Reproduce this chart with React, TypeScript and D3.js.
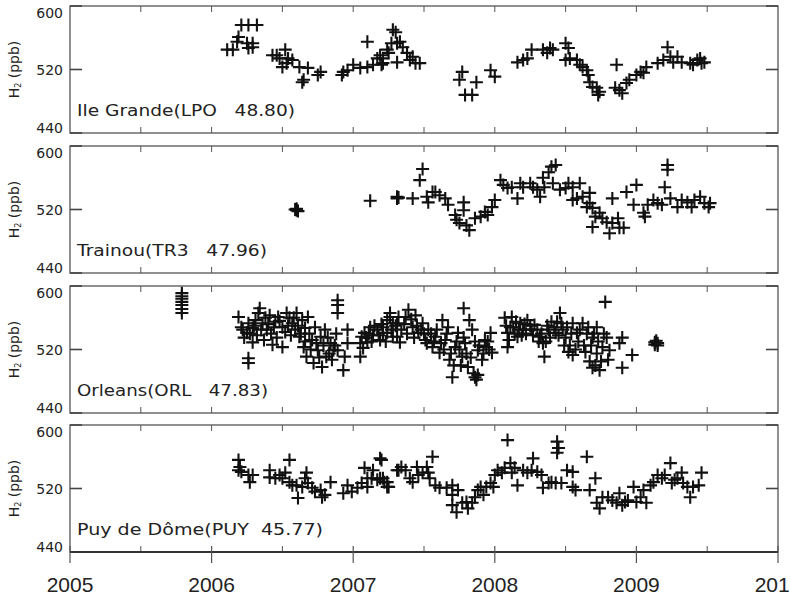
import React from 'react';
import * as d3 from 'd3';

// H2 mixing ratio (ppb) per station, [decimal year, value]
const stations = ['Ile Grande(LPO   48.80)', 'Trainou(TR3   47.96)', 'Orleans(ORL   47.83)', 'Puy de Dôme(PUY  45.77)'];
const labelWidths = [218, 190, 191, 246];

const lpo: number[][] = [
  [2006.11,545],[2006.15,545],[2006.18,555],[2006.19,561],[2006.21,576],[2006.26,576],[2006.32,576],[2006.25,553],[2006.26,547],[2006.29,548],[2006.29,553],
  [2006.43,538],[2006.46,538],[2006.48,534],[2006.52,545],[2006.53,528],[2006.54,534],[2006.57,532],[2006.50,523],[2006.62,523],[2006.64,504],[2006.65,507],[2006.68,522],[2006.75,513],[2006.77,517],
  [2006.92,513],[2006.93,517],[2006.96,519],[2007.00,526],[2007.05,522],[2007.10,555],[2007.10,523],[2007.14,526],[2007.17,534],[2007.19,538],[2007.21,528],[2007.24,545],[2007.27,553],[2007.30,567],
  [2007.20,526],[2007.21,534],[2007.25,541],[2007.28,570],[2007.31,553],[2007.31,529],[2007.33,555],[2007.35,548],[2007.38,541],[2007.40,532],[2007.42,536],[2007.44,528],[2007.47,528],
  [2007.77,517],[2007.75,507],[2007.79,488],[2007.84,488],[2007.87,504],[2007.97,519],[2008.00,511],
  [2008.16,529],[2008.20,532],[2008.23,534],[2008.26,545],[2008.34,545],[2008.37,541],[2008.39,547],[2008.41,545],[2008.50,553],[2008.52,547],[2008.50,532],[2008.53,534],[2008.58,532],[2008.60,526],[2008.62,523],[2008.65,519],[2008.66,513],[2008.67,504],[2008.69,498],[2008.72,497],[2008.74,492],[2008.73,488],
  [2008.86,526],[2008.85,497],[2008.88,494],[2008.90,490],[2008.93,503],[2008.95,507],[2009.00,513],[2009.03,517],[2009.05,516],[2009.07,523],[2009.15,528],[2009.19,532],[2009.22,548],[2009.24,536],[2009.26,529],[2009.29,536],[2009.32,529],[2009.38,528],[2009.40,526],[2009.43,532],[2009.45,534],[2009.46,528],[2009.48,529]
];

const tr3: number[][] = [
  [2006.60,519],[2006.60,521],[2006.61,518],[2006.59,520],[2007.12,531],[2007.31,534],[2007.31,536],[2007.32,535],
  [2007.42,534],[2007.47,557],[2007.49,571],[2007.52,536],[2007.53,529],[2007.56,542],[2007.58,542],[2007.61,538],[2007.65,534],[2007.67,526],[2007.72,513],[2007.73,507],[2007.75,503],[2007.78,529],[2007.78,519],[2007.80,500],[2007.82,494],[2007.86,509],[2007.90,511],[2007.93,517],[2007.95,513],[2007.98,523],[2008.00,532],
  [2008.04,557],[2008.06,551],[2008.09,547],[2008.12,548],[2008.16,534],[2008.18,553],[2008.20,548],[2008.25,553],[2008.27,548],[2008.30,545],[2008.32,536],[2008.34,560],[2008.35,548],[2008.38,567],[2008.40,574],[2008.43,576],[2008.41,553],[2008.46,545],[2008.50,547],[2008.52,553],[2008.55,548],[2008.55,532],[2008.58,534],[2008.60,553],[2008.62,536],[2008.65,523],[2008.67,541],[2008.67,528],[2008.69,522],[2008.71,511],[2008.74,516],[2008.69,498],[2008.76,509],[2008.79,504],[2008.81,490],[2008.83,534],[2008.83,503],[2008.87,509],[2008.88,497],[2008.91,497],[2008.93,542],[2008.98,526],
  [2009.00,551],[2009.05,516],[2009.06,511],[2009.08,526],[2009.12,532],[2009.15,528],[2009.18,526],[2009.20,548],[2009.22,576],[2009.22,570],[2009.24,534],[2009.29,523],[2009.32,532],[2009.36,529],[2009.39,523],[2009.41,532],[2009.45,536],[2009.48,528],[2009.51,523],[2009.52,528]
];

const orl: number[][] = [
  [2005.79,591],[2005.79,587],[2005.79,584],[2005.79,580],[2005.79,576],[2005.79,571],[2005.79,566],
  [2006.26,509],[2006.26,503],
  [2006.19,561],[2006.21,548],[2006.22,545],[2006.25,541],[2006.26,553],[2006.29,547],[2006.29,529],[2006.31,557],[2006.33,566],[2006.34,572],[2006.36,553],[2006.38,560],[2006.39,545],[2006.41,563],[2006.43,526],[2006.45,555],[2006.47,561],[2006.50,548],[2006.50,523],[2006.53,566],[2006.55,560],[2006.57,553],
  [2006.23,535],[2006.27,540],[2006.30,550],[2006.32,538],[2006.35,545],[2006.37,532],[2006.40,552],[2006.42,540],[2006.44,548],[2006.46,535],[2006.48,556],[2006.52,542],[2006.54,550],[2006.56,538],[2006.58,560],
  [2006.59,545],[2006.60,566],[2006.62,536],[2006.64,557],[2006.65,523],[2006.66,547],[2006.67,511],[2006.68,561],[2006.71,532],[2006.72,503],[2006.73,548],[2006.75,519],[2006.77,536],[2006.78,498],[2006.80,545],[2006.81,511],[2006.84,528],[2006.85,507],[2006.86,519],
  [2006.61,550],[2006.63,540],[2006.66,530],[2006.69,540],[2006.70,520],[2006.74,528],[2006.76,510],[2006.79,525],[2006.82,535],[2006.83,515],[2006.87,525],[2006.88,540],
  [2006.89,582],[2006.89,576],[2006.89,566],[2006.89,519],[2006.93,494],[2006.96,545],[2006.96,528],[2006.94,511],
  [2007.05,528],[2007.05,511],[2007.06,536],[2007.08,541],[2007.10,529],[2007.12,548],[2007.14,538],[2007.17,545],[2007.19,532],[2007.21,548],[2007.24,541],[2007.26,561],[2007.28,553],[2007.31,536],[2007.32,561],
  [2007.07,522],[2007.09,535],[2007.11,540],[2007.13,530],[2007.15,550],[2007.18,538],[2007.20,552],[2007.23,530],[2007.27,545],[2007.30,550],
  [2007.21,541],[2007.24,557],[2007.26,566],[2007.28,536],[2007.31,553],[2007.33,529],[2007.37,561],[2007.39,570],[2007.42,548],[2007.44,563],[2007.46,541],[2007.49,553],[2007.51,532],[2007.53,545],[2007.56,523],[2007.58,536],[2007.61,516],[2007.63,557],[2007.65,532],[2007.67,548],[2007.68,507],[2007.70,485],[2007.72,523],[2007.74,541],[2007.78,572],[2007.77,511],[2007.79,528],[2007.81,498],[2007.82,557],[2007.84,545],[2007.86,485],[2007.87,482],[2007.88,519],[2007.91,507],[2007.93,532],[2007.94,523],[2007.97,541],[2007.98,516],
  [2007.34,545],[2007.36,552],[2007.38,540],[2007.41,558],[2007.43,535],[2007.45,550],[2007.48,545],[2007.50,540],[2007.52,528],[2007.55,540],[2007.57,530],[2007.59,545],[2007.62,528],[2007.64,520],[2007.66,540],[2007.69,515],[2007.71,500],[2007.73,530],[2007.75,520],[2007.76,500],[2007.78,535],[2007.80,515],[2007.83,510],[2007.85,490],[2007.86,530],[2007.88,488],[2007.89,525],[2007.92,515],[2007.95,530],[2007.96,520],
  [2008.07,560],[2008.09,541],[2008.09,523],[2008.12,561],[2008.13,548],[2008.16,536],[2008.18,553],[2008.20,545],[2008.23,557],[2008.26,545],[2008.28,551],[2008.32,536],[2008.34,528],[2008.35,511],[2008.38,545],[2008.40,555],[2008.43,541],[2008.46,566],[2008.47,553],[2008.50,535],[2008.52,517],[2008.55,553],[2008.55,513],[2008.58,541],[2008.62,553],[2008.64,517],[2008.66,548],[2008.69,535],[2008.69,497],[2008.72,548],[2008.74,494],[2008.76,523],[2008.78,580],[2008.79,535],[2008.80,507],[2008.81,519],[2008.90,535],[2008.88,528],[2008.90,497],[2008.97,513],
  [2008.08,550],[2008.10,532],[2008.11,548],[2008.14,540],[2008.15,555],[2008.17,545],[2008.19,538],[2008.21,552],[2008.22,540],[2008.25,550],[2008.27,538],[2008.30,545],[2008.31,530],[2008.33,540],[2008.36,530],[2008.37,550],[2008.39,535],[2008.42,548],[2008.44,555],[2008.45,538],[2008.48,545],[2008.49,525],[2008.51,548],[2008.53,525],[2008.54,540],[2008.57,520],[2008.59,530],[2008.60,545],[2008.63,525],[2008.65,540],[2008.67,505],[2008.68,525],[2008.70,540],[2008.71,500],[2008.72,515],[2008.73,530],[2008.75,505],[2008.77,540],
  [2009.13,529],[2009.13,526],[2009.15,528],[2009.14,531],[2009.15,525]
];

const puy: number[][] = [
  [2006.19,556],[2006.20,547],[2006.19,543],[2006.21,541],[2006.26,537],[2006.29,537],[2006.27,528],
  [2006.41,543],[2006.41,534],[2006.45,533],[2006.48,537],[2006.50,533],[2006.52,540],[2006.55,556],[2006.55,528],[2006.57,524],[2006.60,524],[2006.61,508],[2006.64,522],[2006.66,533],[2006.67,540],[2006.68,527],[2006.71,521],[2006.73,516],[2006.77,518],[2006.78,509],[2006.80,512],[2006.84,528],
  [2006.93,514],[2006.96,524],[2006.99,516],[2007.03,521],[2007.06,527],[2007.08,546],[2007.10,533],[2007.10,522],[2007.13,533],[2007.14,543],[2007.17,531],[2007.19,558],[2007.19,533],[2007.22,528],[2007.24,522],[2007.31,543],
  [2007.20,556],[2007.21,533],[2007.24,528],[2007.25,522],[2007.32,543],[2007.34,547],[2007.37,543],[2007.40,533],[2007.42,528],[2007.45,547],[2007.46,537],[2007.49,540],[2007.52,547],[2007.53,540],[2007.54,533],[2007.56,560],[2007.58,524],[2007.61,521],[2007.66,521],[2007.70,524],[2007.70,512],[2007.74,518],
  [2007.70,499],[2007.73,490],[2007.77,502],[2007.80,503],[2007.81,495],[2007.84,502],[2007.86,509],[2007.88,518],[2007.90,522],[2007.92,512],[2007.94,522],[2007.97,527],[2007.99,522],
  [2008.00,537],[2008.02,543],[2008.05,540],[2008.07,546],[2008.09,581],[2008.11,552],[2008.12,540],[2008.14,546],[2008.16,524],[2008.20,543],[2008.23,540],[2008.26,543],[2008.27,558],[2008.30,541],[2008.33,537],[2008.34,521],[2008.38,527],[2008.40,528],[2008.43,527],[2008.44,579],[2008.45,571],[2008.44,565],[2008.47,527],[2008.51,543],[2008.55,541],[2008.55,522],[2008.57,518],
  [2008.65,560],[2008.67,518],[2008.71,533],[2008.72,502],[2008.74,495],[2008.76,509],[2008.80,509],[2008.83,505],[2008.86,502],[2008.88,514],[2008.90,499],[2008.92,503],[2008.94,505],[2008.98,522],
  [2009.00,503],[2009.03,509],[2009.05,518],[2009.07,502],[2009.10,524],[2009.12,528],[2009.15,537],[2009.18,533],[2009.20,537],[2009.24,552],[2009.25,527],[2009.27,531],[2009.29,533],[2009.32,540],[2009.33,527],[2009.36,522],[2009.38,509],[2009.40,522],[2009.44,524],[2009.46,540]
];

const series = [lpo, tr3, orl, puy];
const yearTicks = [2005, 2006, 2007, 2008, 2009, 2010];
const minorTicks = [2005.5, 2006.5, 2007.5, 2008.5, 2009.5];
const yTicks = [440, 520, 600];

const W = 790, H = 596;
const left = 70, right = 778;
const panelTops = [6, 146, 286, 425];
const panelH = 127;

const x = d3.scaleLinear().domain([2005, 2010]).range([left, right]);
const cross = 'M-6.5,0H6.5M0,-6.5V6.5';

// where the tick label baseline sits relative to its tick
const labelShift: Record<number, number> = { 600: 12, 520: 5, 440: 0 };

function Panel({ idx }: { idx: number }) {
  const top = panelTops[idx];
  const bottom = top + panelH;
  const y = d3.scaleLinear().domain([440, 600]).range([bottom, top]);
  const isLast = idx === panelTops.length - 1;
  const allTicks = [...yearTicks, ...minorTicks].filter(t => t > 2005 && t < 2010);
  const mid = (top + bottom) / 2;
  return (
    <g>
      <rect x={left} y={top} width={right - left} height={panelH} fill="none" stroke="#555" strokeWidth={1.3} />
      {allTicks.map(t => (
        <g key={t} stroke="#555" strokeWidth={1}>
          <line x1={x(t)} x2={x(t)} y1={top} y2={top + 6} />
          {!(isLast && yearTicks.includes(t)) && <line x1={x(t)} x2={x(t)} y1={bottom} y2={bottom - 6} />}
        </g>
      ))}
      {yTicks.map(v => (
        <g key={v} stroke="#444" strokeWidth={1.6}>
          <line x1={left} x2={left + 12} y1={y(v)} y2={y(v)} />
          <line x1={right} x2={right - 12} y1={y(v)} y2={y(v)} />
        </g>
      ))}
      {yTicks.map(v => (
        <text key={'l' + v} x={63} y={y(v) + labelShift[v]}
          textAnchor="end" fontSize={14} fontFamily="DejaVu Sans" fill="#222">
          {v}
        </text>
      ))}
      <text x={19} y={mid} transform={`rotate(-90,19,${mid})`}
        textAnchor="middle" fontSize={14} fontFamily="DejaVu Sans" fill="#222">
        H<tspan fontSize={8} dy={2}>2</tspan><tspan dy={-2}> (ppb)</tspan>
      </text>
      <text x={77} y={top + 110} fontSize={16} fontFamily="DejaVu Sans" fill="#222"
        style={{ whiteSpace: 'pre' }} textLength={labelWidths[idx]} lengthAdjust="spacingAndGlyphs">
        {stations[idx]}
      </text>
      <g stroke="#111" strokeWidth={2.1} fill="none">
        {series[idx].map((d, i) => (
          <path key={i} d={cross} transform={`translate(${x(d[0])},${y(d[1])})`} />
        ))}
      </g>
    </g>
  );
}

export default function App() {
  const bottom = panelTops[3] + panelH;
  return (
    <svg width={W} height={H} style={{ position: 'absolute', left: 0, top: 0, background: '#fff' }}>
      <rect width={W} height={H} fill="#fff" />
      {panelTops.map((_, i) => <Panel key={i} idx={i} />)}
      <line x1={left} x2={right} y1={bottom} y2={bottom} stroke="#333" strokeWidth={2.2} />
      {yearTicks.map(t => (
        <line key={t} x1={x(t)} x2={x(t)} y1={bottom - 6} y2={bottom + 11} stroke="#555" strokeWidth={1.2} />
      ))}
      {yearTicks.map(t => (
        <text key={'t' + t} x={x(t)} y={592} textAnchor="middle" fontSize={21}
          fontFamily="Liberation Sans" fill="#222">{t}</text>
      ))}
    </svg>
  );
}
